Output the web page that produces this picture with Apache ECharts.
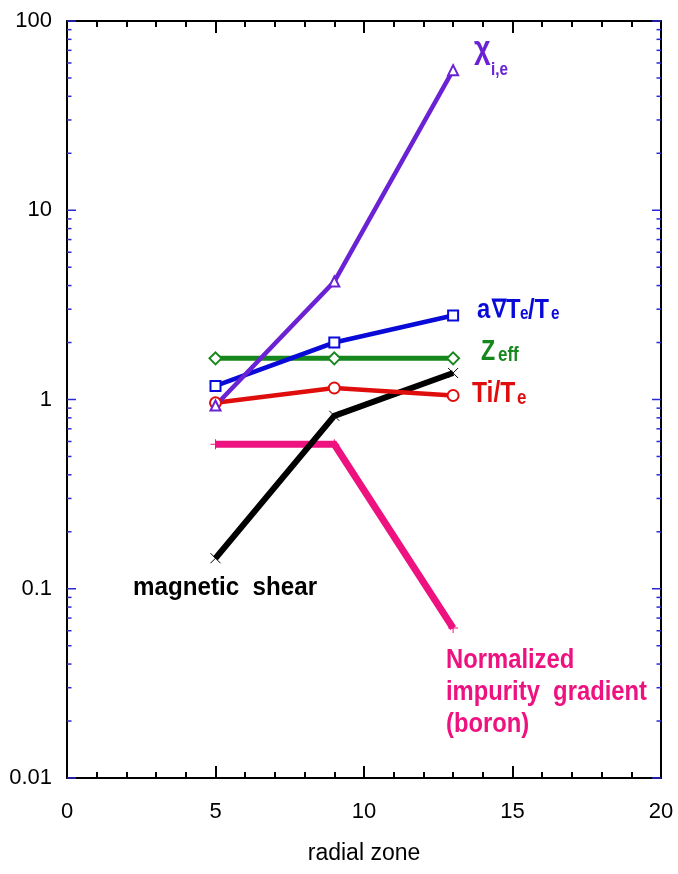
<!DOCTYPE html>
<html>
<head>
<meta charset="utf-8">
<script src="https://cdn.jsdelivr.net/npm/echarts@6/dist/echarts.min.js"></script>
<style>
  html, body { margin: 0; padding: 0; background: #fff; }
  #chart { width: 678px; height: 874px; }
</style>
</head>
<body>
<div id="chart"></div>
<script>
// Radial zones at which the profiles were evaluated
const zones = [5, 9, 13];

// Profile values per zone
const chiIE = [0.93, 4.2, 55];          // χ i,e
const gradTe = [1.18, 2.0, 2.78];       // a∇Te/Te
const zEff = [1.65, 1.65, 1.65];        // Zeff
const tiTe = [0.96, 1.15, 1.05];        // Ti/Te
const shear = [0.145, 0.82, 1.38];      // magnetic shear
const impurity = [0.58, 0.58, 0.062];   // normalized boron gradient

// Log-axis tick values: decades and the 2..9 steps within each decade
const majorTickValues = [0.01, 0.1, 1, 10, 100];
const minorTickValues = [
  0.02, 0.03, 0.04, 0.05, 0.06, 0.07, 0.08, 0.09,
  0.2, 0.3, 0.4, 0.5, 0.6, 0.7, 0.8, 0.9,
  2, 3, 4, 5, 6, 7, 8, 9,
  20, 30, 40, 50, 60, 70, 80, 90
];

const FONT = '"Liberation Sans", Arial, Helvetica, sans-serif';
const C = {
  purple: '#6a22d4',
  blue: '#0a0ad8',
  green: '#16871c',
  red: '#e00d0d',
  black: '#000000',
  pink: '#ee1280',
  tick: '#2a2ad0'
};

const pair = (vals) => zones.map((z, i) => [z, vals[i]]);

function lineSeries(name, vals, color, width, symbol, symbolSize) {
  return {
    name: name,
    type: 'line',
    data: pair(vals),
    symbol: symbol,
    symbolSize: symbolSize,
    showAllSymbol: true,
    lineStyle: { color: color, width: width, cap: 'butt', join: 'miter' },
    itemStyle: { color: symbol.startsWith('path') ? 'none' : color, borderColor: color, borderWidth: 1 },
    emphasis: { disabled: true },
    animation: false
  };
}

const xAxisBase = {
  type: 'value', min: 0, max: 20, interval: 5,
  axisLine: { show: true, onZero: false, lineStyle: { color: '#000', width: 2 } },
  axisTick: { show: true, inside: true, length: 12, lineStyle: { color: '#000', width: 2 } },
  minorTick: { show: true, splitNumber: 5, length: 6, lineStyle: { color: '#000', width: 2 } },
  splitLine: { show: false }
};

const yAxisBase = {
  type: 'log', logBase: 10, min: 0.01, max: 100,
  axisLine: { show: true, onZero: false, lineStyle: { color: '#000', width: 2 } },
  axisTick: { show: false },
  minorTick: { show: false },
  splitLine: { show: false }
};

function label(text, x, y, size, color, scaleX) {
  return {
    type: 'text', x: x, y: y, scaleX: scaleX || 0.85, z: 10,
    style: {
      text: text, fill: color, fontSize: size, fontWeight: 'bold',
      fontFamily: FONT, align: 'left', verticalAlign: 'middle'
    }
  };
}

const chart = echarts.init(document.getElementById('chart'), null, { renderer: 'canvas' });

const annotations = [
  // χ i,e
  label('χ', 474, 49, 32, C.purple, 0.9),
  label('i,e', 491, 70, 18, C.purple),
  // a∇Te/Te
  label('a', 477, 310, 28, C.blue),
  label('∇', 492, 310, 25, C.blue),
  label('T', 506, 310, 28, C.blue),
  label('e', 520, 314, 18, C.blue),
  label('/T', 528, 310, 28, C.blue),
  label('e', 551, 314, 18, C.blue),
  // Zeff
  label('Z', 481, 352, 29, C.green, 0.8),
  label('eff', 498, 355, 20, C.green),
  // Ti/Te
  label('Ti/T', 472, 394, 29, C.red),
  label('e', 517, 398, 20, C.red),
  // magnetic shear
  label('magnetic  shear', 133, 588, 26, C.black, 0.93),
  // impurity gradient
  label('Normalized', 446, 660, 28, C.pink),
  label('impurity  gradient', 446, 692, 28, C.pink),
  label('(boron)', 446, 724, 28, C.pink)
];

chart.setOption({
  backgroundColor: '#ffffff',
  animation: false,
  grid: { left: 67, right: 17, top: 21, bottom: 96 },
  xAxis: [
    Object.assign({}, xAxisBase, {
      position: 'bottom',
      name: 'radial zone', nameLocation: 'middle', nameGap: 64,
      nameTextStyle: { fontSize: 23, color: '#000', fontFamily: FONT },
      axisLabel: { show: true, margin: 23, fontSize: 22, color: '#000', fontFamily: FONT }
    }),
    Object.assign({}, xAxisBase, { position: 'top', axisLabel: { show: false } })
  ],
  yAxis: [
    Object.assign({}, yAxisBase, {
      position: 'left',
      axisLabel: {
        show: true, margin: 15, fontSize: 22, color: '#000', fontFamily: FONT,
        formatter: function (v) { return String(+v.toPrecision(3)); }
      }
    }),
    Object.assign({}, yAxisBase, { position: 'right', axisLabel: { show: false } })
  ],
  series: [
    lineSeries('impurity gradient', impurity, C.pink, 7, 'path://M5,0L5,10M0,5L10,5', 10),
    lineSeries('magnetic shear', shear, C.black, 6, 'path://M0,0L10,10M10,0L0,10', 10),
    lineSeries('Zeff', zEff, C.green, 5, 'emptyDiamond', 12),
    lineSeries('Ti/Te', tiTe, C.red, 4.5, 'emptyCircle', 11),
    lineSeries('a∇Te/Te', gradTe, C.blue, 4.5, 'emptyRect', 10),
    lineSeries('χi,e', chiIE, C.purple, 4.5, 'emptyTriangle', 10)
  ],
  graphic: annotations
});

// Inward y ticks on both vertical frame edges, placed through the log axis scale
const xLeft = chart.convertToPixel({ xAxisIndex: 0 }, 0);
const xRight = chart.convertToPixel({ xAxisIndex: 0 }, 20);
const tickStyle = { stroke: C.tick, lineWidth: 1.5 };
const tickMarks = [];
function addTicks(values, len) {
  values.forEach(function (v) {
    const y = chart.convertToPixel({ yAxisIndex: 0 }, v);
    tickMarks.push({ type: 'line', silent: true, z: 5,
      shape: { x1: xLeft, y1: y, x2: xLeft + len, y2: y }, style: tickStyle });
    tickMarks.push({ type: 'line', silent: true, z: 5,
      shape: { x1: xRight - len, y1: y, x2: xRight, y2: y }, style: tickStyle });
  });
}
addTicks(majorTickValues, 9);
addTicks(minorTickValues, 4.5);
chart.setOption({ graphic: annotations.concat(tickMarks) });
</script>
</body>
</html>
